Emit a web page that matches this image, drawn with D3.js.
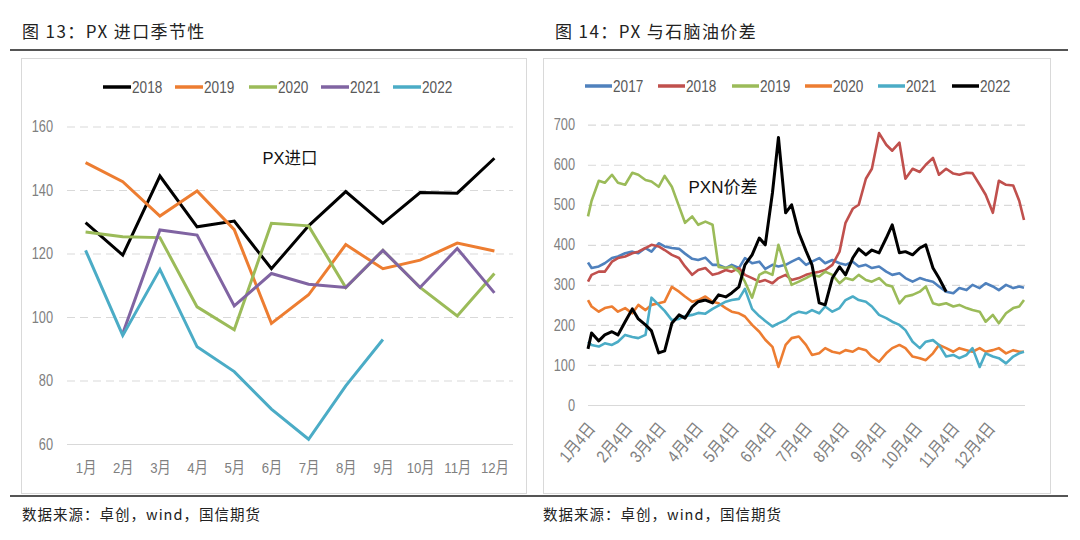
<!DOCTYPE html>
<html><head><meta charset="utf-8">
<script src="https://cdn.jsdelivr.net/npm/d3@7"></script>
<style>
body{margin:0;background:#fff;}
svg{display:block;}
.num{font-family:"Liberation Sans","Noto Sans CJK SC",sans-serif;}
.cjk{font-family:"Noto Sans CJK SC","Noto Sans",sans-serif;}
</style>
</head><body>
<svg id="c" width="1080" height="540"></svg>
<script>
// ---------- Left chart: PX imports (monthly) ----------
const months = ["1月","2月","3月","4月","5月","6月","7月","8月","9月","10月","11月","12月"];
const leftYears = ["2018","2019","2020","2021","2022"];
const imp2018 = [129.7,119.5,144.4,128.4,130.2,115.2,128.7,139.5,129.5,139.2,139.0,150.0];
const imp2019 = [148.6,142.6,131.8,139.7,127.5,98.0,107.0,122.8,115.2,117.9,123.3,120.8];
const imp2020 = [126.8,125.3,125.0,103.2,96.0,129.5,128.7,109.3,121.0,109.3,100.3,113.7];
const imp2021 = [null,94.8,127.4,125.8,103.5,113.7,110.3,109.3,121.0,109.3,121.6,107.6];
const imp2022 = [121.0,94.2,115.0,90.6,82.8,71.0,61.5,78.3,92.9,null,null,null];
const leftTicks = [60,80,100,120,140,160];
const leftColors = ["#000000","#ED7D31","#9BBB59","#8064A2","#4BACC6"];

// ---------- Right chart: PX - naphtha spread (day of year) ----------
const rightYears = ["2017","2018","2019","2020","2021","2022"];
const dayOfYear = [1,4,10,15,21,26,32,38,43,49,54,60,65,71,77,82,88,93,99,105,110,116,121,127,132,138,144,149,155,160,166,171,177,183,188,194,199,205,211,216,222,227,233,238,244,250,255,261,266,272,278,283,289,294,300,306,311,317,322,328,333,339,344,350,356,361,365];
const spr2017 = [356,342,346,354,367,371,379,383,379,392,383,404,396,392,390,378,365,362,368,350,350,342,350,342,367,354,358,340,350,346,350,358,367,350,358,367,354,362,354,350,358,346,350,342,346,333,325,329,317,308,317,312,308,296,283,279,292,287,300,292,304,296,287,300,292,296,293];
const spr2018 = [308,325,333,333,358,367,371,379,383,392,400,396,387,375,367,346,325,337,342,325,329,337,333,342,325,317,308,312,304,317,325,312,317,325,329,333,337,350,383,455,490,500,565,590,679,650,635,655,565,590,582,600,617,575,590,578,575,580,579,550,525,480,560,550,548,510,462];
const spr2019 = [471,510,560,555,575,555,550,580,575,562,558,545,572,545,496,455,471,450,458,450,345,342,346,333,308,268,325,333,325,400,342,300,308,317,325,321,333,325,304,317,312,325,312,308,317,300,296,254,271,275,283,296,254,250,254,246,250,242,237,233,208,225,204,229,242,246,262];
const spr2020 = [262,246,233,242,246,233,242,229,250,237,250,254,258,295,283,271,258,262,271,258,254,242,233,229,221,200,183,163,145,95,150,167,171,150,125,129,142,133,129,137,133,142,137,121,108,129,142,150,142,121,117,112,129,150,142,133,142,137,133,142,133,137,142,129,137,133,133];
const spr2021 = [158,150,146,154,150,158,175,170,167,175,268,250,235,212,215,222,225,230,228,240,248,258,262,265,290,240,222,210,196,204,212,225,233,229,237,229,246,233,242,262,271,262,258,246,225,217,208,200,187,158,142,158,162,150,121,125,117,125,142,95,129,121,117,104,121,129,133];
const spr2022 = [140,180,160,175,183,175,208,240,215,200,185,130,135,204,225,217,245,258,262,255,275,270,280,295,350,375,417,400,530,668,480,500,430,385,350,255,250,317,345,325,367,390,375,387,380,417,450,380,383,375,392,400,342,317,283,null,null,null,null,null,null,null,null,null,null,null,null];
const rightTicks = [0,100,200,300,400,500,600,700];
const rightTickMonths = [1,2,3,4,5,6,7,8,9,10,11,12];
const rightColors = ["#4F81BD","#C0504D","#9BBB59","#ED7D31","#4BACC6","#000000"];

const svg = d3.select("#c");
const gridColor = "#d9d9d9", labelColor = "#808080", legendText = "#595959";

// condense text horizontally (the reference uses a narrow face)
function narrow(sel, f){
  sel.each(function(){
    const L = this.getComputedTextLength();
    d3.select(this).attr("textLength", L*f).attr("lengthAdjust","spacingAndGlyphs");
  });
}

// ---------- frame, titles, rules ----------
svg.append("text").attr("class","cjk").attr("x",22).attr("y",38).attr("font-size",17).attr("letter-spacing",1.4).attr("fill","#222")
  .text("图 13：PX 进口季节性");
svg.append("text").attr("class","cjk").attr("x",555).attr("y",38).attr("font-size",17).attr("letter-spacing",1.4).attr("fill","#222")
  .text("图 14：PX 与石脑油价差");
svg.append("line").attr("x1",10).attr("x2",1068).attr("y1",50).attr("y2",50).attr("stroke","#555").attr("stroke-width",2);
svg.append("line").attr("x1",10).attr("x2",1068).attr("y1",496).attr("y2",496).attr("stroke","#555").attr("stroke-width",2);
svg.append("rect").attr("x",21.5).attr("y",58.5).attr("width",505).attr("height",435).attr("fill","none").attr("stroke","#d9d9d9");
svg.append("rect").attr("x",543.5).attr("y",58.5).attr("width",507).attr("height",435).attr("fill","none").attr("stroke","#d9d9d9");
svg.append("text").attr("class","cjk").attr("x",22).attr("y",520).attr("font-size",14.5).attr("letter-spacing",1).attr("fill","#222")
  .text("数据来源：卓创，wind，国信期货");
svg.append("text").attr("class","cjk").attr("x",543).attr("y",520).attr("font-size",14.5).attr("letter-spacing",1).attr("fill","#222")
  .text("数据来源：卓创，wind，国信期货");

// ---------- Left chart ----------
const xL = d3.scalePoint().domain(months).range([67,513]).padding(0.5);
const yL = d3.scaleLinear().domain([60,160]).range([444,126.5]);
const gL = svg.append("g");
gL.append("g").attr("transform","translate(67,0)")
  .call(d3.axisLeft(yL).tickValues(leftTicks).tickSize(-446).tickFormat(d=>d).tickPadding(14))
  .call(g=>{g.select(".domain").remove();
    g.selectAll(".tick line").attr("stroke",gridColor).attr("stroke-width",1.2)
     .attr("stroke-dasharray",d=>d===60?null:"8,5");
    g.selectAll(".tick text").attr("class","num").attr("font-size",16).attr("fill",labelColor).call(narrow,0.8);});
gL.append("g").attr("transform","translate(0,444)")
  .call(d3.axisBottom(xL).tickSize(0).tickPadding(18))
  .call(g=>{g.select(".domain").remove();
    g.selectAll(".tick text").attr("class","num").attr("font-size",15.5).attr("fill",labelColor).call(narrow,0.85);});
const leftSeries = [imp2018,imp2019,imp2020,imp2021,imp2022];
const lineL = d3.line().defined(d=>d[1]!=null).x(d=>xL(d[0])).y(d=>yL(d[1]));
leftSeries.forEach((s,i)=>{
  gL.append("path").datum(months.map((m,j)=>[m,s[j]]))
    .attr("d",lineL).attr("fill","none").attr("stroke",leftColors[i]).attr("stroke-width",3)
    .attr("stroke-linejoin","miter");
});
gL.append("text").attr("class","num").attr("x",290).attr("y",164).attr("text-anchor","middle")
  .attr("font-size",16.5).attr("fill","#111").text("PX进口");
const legL = [103,175,249,321,393];
leftYears.forEach((y,i)=>{
  gL.append("line").attr("x1",legL[i]).attr("x2",legL[i]+28).attr("y1",87).attr("y2",87)
    .attr("stroke",leftColors[i]).attr("stroke-width",3.5);
  gL.append("text").attr("class","num").attr("x",legL[i]+29).attr("y",93)
    .attr("font-size",17).attr("fill",legendText).text(y).call(narrow,0.8);
});

// ---------- Right chart ----------
const xR = d3.scaleTime().domain([new Date(2022,0,1),new Date(2022,11,31)]).range([588,1024]);
const yR = d3.scaleLinear().domain([0,700]).range([405,124.7]);
const gR = svg.append("g");
gR.append("g").attr("transform","translate(588,0)")
  .call(d3.axisLeft(yR).tickValues(rightTicks).tickSize(-437).tickPadding(13))
  .call(g=>{g.select(".domain").remove();
    g.selectAll(".tick line").attr("stroke",gridColor).attr("stroke-width",1.2)
     .attr("stroke-dasharray",d=>d===0?null:"8,5");
    g.selectAll(".tick text").attr("class","num").attr("font-size",16).attr("fill",labelColor).call(narrow,0.8);});
const tickDates = rightTickMonths.map(m=>new Date(2022,m-1,4));
gR.append("g").attr("transform","translate(0,405)")
  .call(d3.axisBottom(xR).tickValues(tickDates).tickSize(0).tickFormat(d3.timeFormat("%-m月%-d日")))
  .call(g=>{g.select(".domain").remove();
    g.selectAll(".tick text").attr("class","num").attr("font-size",17).attr("fill",labelColor)
      .attr("text-anchor","end").attr("dy",0).attr("y",0)
      .attr("transform","translate(4,24) rotate(-50)").call(narrow,0.85);});
const rightSeries = [spr2017,spr2018,spr2019,spr2020,spr2021,spr2022];
const lineR = d3.line().defined(d=>d[1]!=null).x(d=>xR(d[0])).y(d=>yR(d[1]));
rightSeries.forEach((s,i)=>{
  gR.append("path").datum(dayOfYear.map((d,j)=>[new Date(2022,0,d),s[j]]))
    .attr("d",lineR).attr("fill","none").attr("stroke",rightColors[i])
    .attr("stroke-width",i===5?3:2.6).attr("stroke-linejoin","round");
});
gR.append("text").attr("class","num").attr("x",723).attr("y",193).attr("text-anchor","middle")
  .attr("font-size",17).attr("fill","#111").text("PXN价差");
const legR = [585,658,732,805,878,952];
rightYears.forEach((y,i)=>{
  gR.append("line").attr("x1",legR[i]).attr("x2",legR[i]+27).attr("y1",86).attr("y2",86)
    .attr("stroke",rightColors[i]).attr("stroke-width",3.5);
  gR.append("text").attr("class","num").attr("x",legR[i]+28).attr("y",92)
    .attr("font-size",17).attr("fill",legendText).text(y).call(narrow,0.8);
});
</script>
</body></html>
